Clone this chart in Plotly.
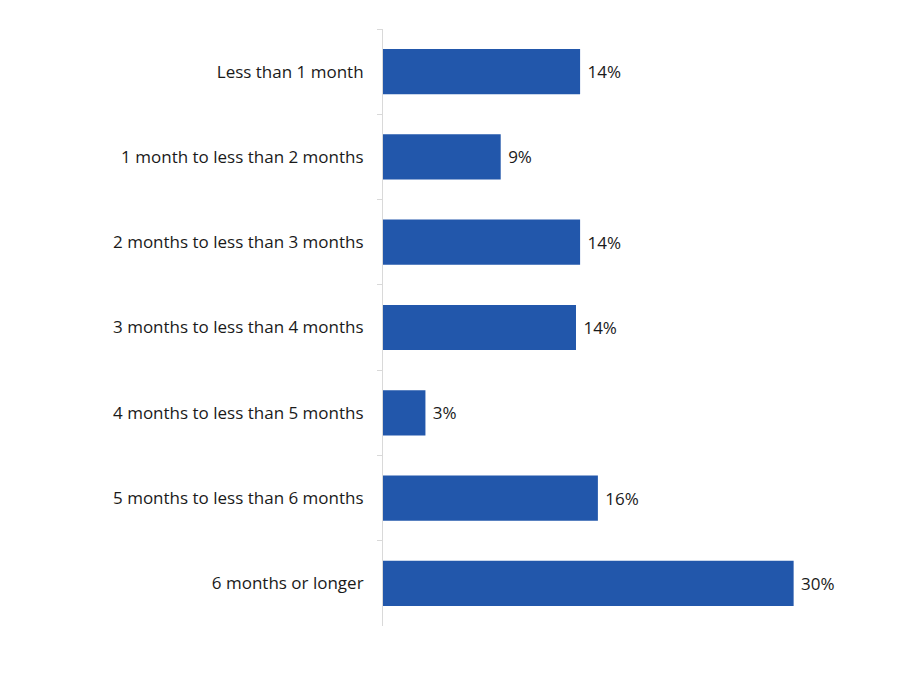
import plotly.graph_objects as go

categories = [
    "Less than 1 month",
    "1 month to less than 2 months",
    "2 months to less than 3 months",
    "3 months to less than 4 months",
    "4 months to less than 5 months",
    "5 months to less than 6 months",
    "6 months or longer",
]
values = [14.4, 8.6, 14.4, 14.1, 3.1, 15.7, 30.0]
labels = ["14%", "9%", "14%", "14%", "3%", "16%", "30%"]

FONT = "Open Sans"

fig = go.Figure(
    go.Bar(
        y=categories,
        x=values,
        orientation="h",
        marker=dict(color="#2257AB", line=dict(width=0)),
        text=[" " + t for t in labels],
        textposition="outside",
        textfont=dict(size=17, color="#1a1a1a", family=FONT),
        cliponaxis=False,
        hoverinfo="skip",
    )
)

fig.update_layout(
    width=900,
    height=675,
    margin=dict(l=375, r=87, t=21, b=57),
    paper_bgcolor="white",
    plot_bgcolor="white",
    bargap=0.47,
    showlegend=False,
    font=dict(family=FONT, size=17, color="#1a1a1a"),
)
fig.update_xaxes(range=[0, 32], visible=False)
fig.update_yaxes(
    autorange="reversed",
    showline=True,
    linecolor="#D9D9D9",
    linewidth=1,
    ticks="outside",
    tickson="boundaries",
    ticklen=5,
    tickcolor="#D9D9D9",
    showgrid=False,
    tickfont=dict(size=17, color="#1a1a1a", family=FONT),
    ticklabelstandoff=15,
)

fig.write_html("out.html")
